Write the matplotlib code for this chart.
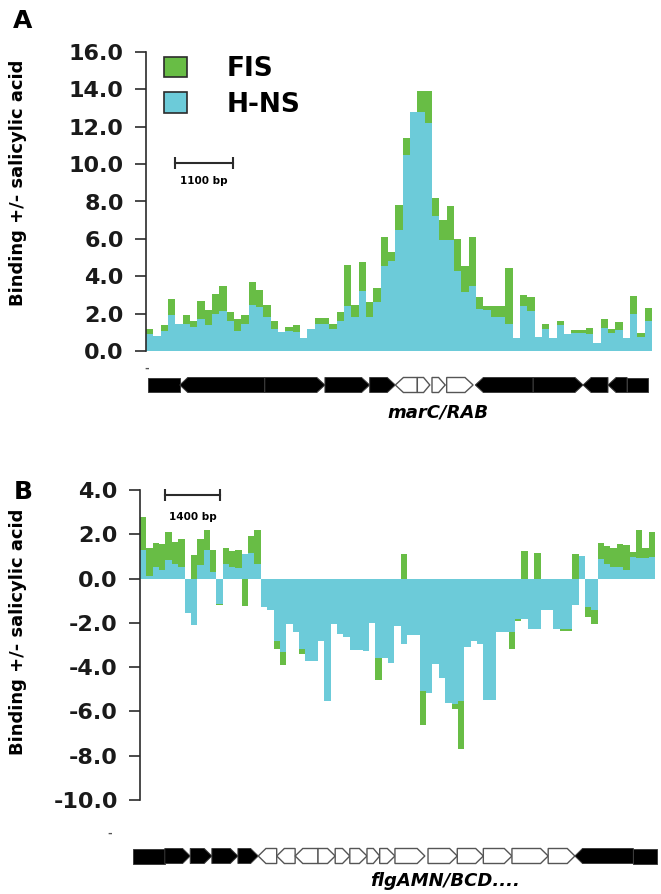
import numpy as np
import matplotlib
matplotlib.use('Agg')
import matplotlib.pyplot as plt
from matplotlib.patches import Patch, Polygon

plt.rcParams['font.family'] = ['DejaVu Sans']
plt.rcParams['font.weight'] = 'bold'

GREEN = '#68bd45'
CYAN = '#6ccbd9'
DARK = '#2b2b2b'

# panel A: marC/RAB region, one value per probe bin
fis_a = [1.16, 0.75, 1.4, 2.8, 1.4, 1.94, 1.6, 2.65, 2.2, 3.05, 3.46, 2.1, 1.7, 1.94,
         3.67, 3.26, 2.47, 1.6, 0.95, 1.3, 1.4, 0.65, 1.1, 1.75, 1.75, 1.43, 2.1, 4.6,
         2.46, 4.75, 2.6, 3.35, 6.09, 5.29, 7.83, 11.4, 12.0, 13.9, 13.9, 8.2, 7.0, 7.75,
         6.0, 4.57, 6.1, 2.9, 2.4, 2.4, 2.4, 4.46, 0.7, 3.0, 2.87, 0.7, 1.47, 0.7, 1.6,
         0.85, 1.1, 1.1, 1.25, 0.4, 1.7, 1.16, 1.55, 0.7, 2.96, 0.98, 2.28]
hns_a = [0.9, 0.8, 1.07, 1.9, 1.47, 1.43, 1.3, 1.7, 1.4, 1.97, 2.15, 1.6, 1.07, 1.43,
         2.46, 2.33, 1.8, 1.2, 1.0, 1.07, 1.0, 0.7, 1.16, 1.43, 1.43, 1.2, 1.6, 2.4,
         1.83, 3.2, 1.8, 2.6, 4.57, 4.84, 6.45, 10.5, 12.8, 12.8, 12.2, 7.2, 5.95, 5.95,
         4.3, 3.14, 3.5, 2.25, 2.2, 1.83, 1.8, 1.43, 0.72, 2.4, 2.15, 0.75, 1.2, 0.72, 1.4,
         0.9, 0.98, 0.98, 0.9, 0.41, 1.25, 0.98, 1.1, 0.72, 2.0, 0.75, 1.6]

# panel B: flgAMN/BCD region
fis_b = [2.8, 1.4, 1.6, 1.56, 2.1, 1.67, 1.8, -1.2, 1.06, 1.8,
         2.2, 1.3, -1.2, 1.4, 1.25, 1.3, -1.25, 1.92, 2.2, -1.0,
         -1.3, -3.2, -3.9, -1.8, -2.0, -3.4, -3.0, -3.2, -2.2, -4.5,
         -1.8, -2.0, -2.2, -2.8, -2.9, -2.5, -1.6, -4.6, -3.5, -3.2,
         -2.0, 1.1, -2.2, -2.3, -6.6, -5.0, -3.5, -4.3, -5.2, -5.9,
         -7.7, -2.8, -2.5, -2.6, -5.0, -5.2, -2.3, -2.4, -3.18, -1.9,
         1.25, -2.2, 1.14, -1.3, -1.3, -2.0, -2.35, -2.35, 1.1, 0.9,
         -1.75, -2.05, 1.62, 1.47, 1.36, 1.56, 1.52, 1.2, 2.2, 1.36,
         2.12]
hns_b = [1.29, 0.1, 0.53, 0.38, 0.83, 0.68, 0.53, -1.56, -2.08, 0.6,
         1.29, 0.3, -1.15, 0.65, 0.53, 0.5, 1.09, 1.14, 0.64, -1.29,
         -1.4, -2.8, -3.3, -2.06, -2.4, -3.2, -3.7, -3.7, -2.8, -5.55,
         -2.06, -2.5, -2.64, -3.24, -3.24, -3.27, -2.0, -3.6, -3.6, -3.8,
         -2.12, -2.95, -2.55, -2.55, -5.08, -5.15, -3.86, -4.47, -5.6, -5.68,
         -5.53, -3.1, -2.83, -2.95, -5.5, -5.5, -2.4, -2.42, -2.42, -1.82,
         -1.82, -2.27, -2.27, -1.44, -1.44, -2.27, -2.27, -2.27, -1.21, 1.0,
         -1.3, -1.4, 0.9, 0.68, 0.53, 0.53, 0.38, 0.98, 0.95, 0.95,
         0.98]

# genes: start, end (bin units), strand (+1/-1, 0 = no arrow), filled
genes_a = [(0.3, 4.6, 0, True), (4.6, 16.2, -1, True), (16.2, 24.4, 1, True),
           (24.4, 30.5, 1, True), (30.5, 34.0, 1, True), (34.0, 37.0, -1, False),
           (37.0, 38.7, 1, False), (39.0, 40.8, 1, False), (41.0, 44.6, 1, False),
           (44.9, 52.8, -1, True), (52.8, 59.6, 1, True), (59.6, 63.0, -1, True),
           (63.0, 65.6, -1, True), (65.6, 68.5, 0, True)]
genes_b = [(-1.1, 3.9, 0, True), (3.9, 7.9, 1, True), (7.9, 11.3, 1, True),
           (11.3, 15.4, 1, True), (15.4, 18.6, 1, True), (18.6, 21.5, -1, False),
           (21.5, 24.4, -1, False), (24.4, 28.0, -1, False), (28.0, 30.7, 1, False),
           (30.7, 33.0, 1, False), (33.0, 35.7, 1, False), (35.7, 37.7, 1, False),
           (37.7, 40.1, 1, False), (40.1, 44.8, 1, False), (45.3, 49.9, 1, False),
           (49.9, 54.0, 1, False), (54.0, 58.5, 1, False), (58.5, 64.2, 1, False),
           (64.2, 68.4, 1, False), (68.4, 77.6, -1, True), (77.6, 81.3, 0, True)]

W, H = 661, 894
fig = plt.figure(figsize=(W / 100, H / 100), dpi=100)


def box(x0, y0, x1, y1):
    return [x0 / W, 1 - y1 / H, (x1 - x0) / W, (y1 - y0) / H]


def px(x, y):
    return x / W, 1 - y / H


def bar_panel(rect, fis, hns, ylim, ticks):
    ax = fig.add_axes(rect)
    x = np.arange(len(fis))
    ax.bar(x, fis, width=1, align='edge', color=GREEN, linewidth=0)
    ax.bar(x, hns, width=1, align='edge', color=CYAN, linewidth=0)
    ax.set_xlim(0, len(fis))
    ax.set_ylim(*ylim)
    ax.set_yticks(ticks)
    ax.set_yticklabels(['%.1f' % t for t in ticks])
    for s in ['top', 'right', 'bottom']:
        ax.spines[s].set_visible(False)
    ax.spines['left'].set_color(DARK)
    ax.spines['left'].set_linewidth(1.2)
    ax.set_xticks([])
    ax.tick_params(axis='y', length=8, width=1.2, pad=8, labelsize=16,
                   color=DARK, labelcolor='#1a1a1a')
    return ax


def gene_track(rect, genes, xlim, head):
    ax = fig.add_axes(rect)
    ax.set_xlim(*xlim)
    ax.set_ylim(0, 1)
    ax.axis('off')
    for s, e, strand, filled in genes:
        h = min(head, (e - s) / 2)
        if strand > 0:
            pts = [(s, 0), (e - h, 0), (e, 0.5), (e - h, 1), (s, 1)]
        elif strand < 0:
            pts = [(e, 0), (s + h, 0), (s, 0.5), (s + h, 1), (e, 1)]
        else:
            pts = [(s, 0), (e, 0), (e, 1), (s, 1)]
        ax.add_patch(Polygon(pts, closed=True, clip_on=False,
                             facecolor='black' if filled else 'white',
                             edgecolor='#3c3c3c' if filled else '#555555',
                             linewidth=0.7 if filled else 1.0))
    return ax


# panel A
axA = bar_panel(box(146, 52, 652, 351), fis_a, hns_a, (0, 16), np.arange(0, 17, 2))
axA.legend([Patch(facecolor=GREEN, edgecolor=DARK, linewidth=1.2),
            Patch(facecolor=CYAN, edgecolor=DARK, linewidth=1.2)],
           ['FIS', 'H-NS'], loc='upper left', bbox_to_anchor=(0.036, 0.985),
           frameon=False, prop={'size': 19, 'weight': 'bold'},
           handlelength=0.85, handleheight=0.8, handletextpad=1.5,
           labelspacing=0.35, borderpad=0, borderaxespad=0)
axA.plot([0.057, 0.172], [0.63, 0.63], transform=axA.transAxes, color=DARK,
         lw=1.5, marker='|', ms=9, mew=1.5, clip_on=False)
axA.text(0.114, 0.57, '1100 bp', transform=axA.transAxes, ha='center',
         va='center', fontsize=7.5)
gene_track(box(146, 377.5, 652, 392.5), genes_a, (0, len(fis_a)), 1.1)
fig.text(*px(438, 412), 'marC/RAB', ha='center', va='center', fontsize=13,
         style='italic')

# panel B
axB = bar_panel(box(140, 490, 655, 800), fis_b, hns_b, (-10, 4), np.arange(-10, 5, 2))
axB.plot([0.0485, 0.155], [0.984, 0.984], transform=axB.transAxes, color=DARK,
         lw=1.5, marker='|', ms=9, mew=1.5, clip_on=False)
axB.text(0.102, 0.913, '1400 bp', transform=axB.transAxes, ha='center',
         va='center', fontsize=7.5)
gene_track(box(140, 848.5, 655, 863.5), genes_b, (0, len(fis_b)), 1.2)
fig.text(*px(445, 881), 'flgAMN/BCD....', ha='center', va='center',
         fontsize=13, style='italic')

# axis titles and panel letters
fig.text(*px(18, 183), 'Binding +/- salicylic acid', rotation=90,
         ha='center', va='center', fontsize=13)
fig.text(*px(18, 632), 'Binding +/- salicylic acid', rotation=90,
         ha='center', va='center', fontsize=13)
fig.text(*px(23, 21), 'A', ha='center', va='center', fontsize=18)
fig.text(*px(23, 492), 'B', ha='center', va='center', fontsize=18)
fig.text(*px(147, 369), '-', ha='center', va='center', fontsize=8, color='#555555')
fig.text(*px(110, 834), '-', ha='center', va='center', fontsize=8, color='#555555')

fig.savefig('out.png', dpi=100)
